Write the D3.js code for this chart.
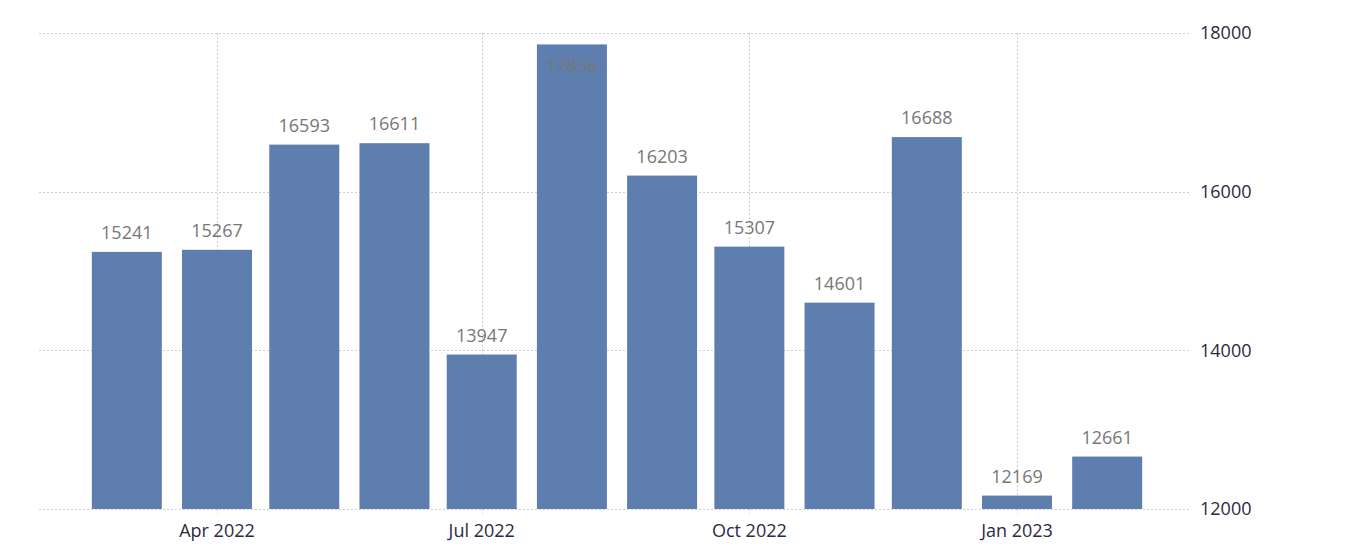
<!DOCTYPE html>
<html>
<head>
<meta charset="utf-8">
<script src="https://cdn.jsdelivr.net/npm/d3@7"></script>
<style>
    body { margin: 0; background: #fff; }
    svg text { font-family: "Open Sans", sans-serif; }
    .grid line { stroke: #cfcfcf; stroke-dasharray: 2,2; shape-rendering: crispEdges; }
    .bar { fill: #5d7eae; }
    .label { fill: #777; font-size: 18px; text-anchor: middle; }
    .ylab { fill: #2a2a44; font-size: 18px; }
    .xlab { fill: #2a2a44; font-size: 18px; text-anchor: middle; }
</style>
</head>
<body>
<svg width="1352" height="550"></svg>
<script>
// monthly values, Mar 2022 - Feb 2023
var months = ["2022-03","2022-04","2022-05","2022-06","2022-07","2022-08",
              "2022-09","2022-10","2022-11","2022-12","2023-01","2023-02"];
var values = [15241, 15267, 16593, 16611, 13947, 17856, 16203, 15307, 14601, 16688, 12169, 12661];
var yTicks = [12000, 14000, 16000, 18000];
var xTicks = ["2022-04","2022-07","2022-10","2023-01"];
var xTickLabels = ["Apr 2022","Jul 2022","Oct 2022","Jan 2023"];

var g = {};
g.svg = d3.select("svg");
g.left = 39; g.right = 1190; g.top = 33; g.bottom = 509;

var parse = d3.timeParse("%Y-%m");
var data = months.map(function(m, i) { return { date: parse(m), value: values[i] }; });

var x = d3.scaleTime()
    .domain([parse("2022-04"), parse("2023-01")])
    .range([217, 1017]);

var y = d3.scaleLinear()
    .domain([12000, 18000])
    .range([g.bottom, g.top]);

var barWidth = 70;

// gridlines
var grid = g.svg.append("g").attr("class", "grid");
grid.selectAll(".h")
    .data(yTicks)
  .enter().append("line")
    .attr("class", "h")
    .attr("x1", g.left).attr("x2", g.right)
    .attr("y1", function(d) { return Math.round(y(d)) + 0.5; })
    .attr("y2", function(d) { return Math.round(y(d)) + 0.5; });
grid.selectAll(".v")
    .data(xTicks)
  .enter().append("line")
    .attr("class", "v")
    .attr("x1", function(d) { return Math.round(x(parse(d))) + 0.5; })
    .attr("x2", function(d) { return Math.round(x(parse(d))) + 0.5; })
    .attr("y1", g.top).attr("y2", g.bottom + 5);

// bars
g.svg.append("g").selectAll("rect")
    .data(data)
  .enter().append("rect")
    .attr("class", "bar")
    .attr("x", function(d) { return x(d.date) - barWidth / 2; })
    .attr("width", barWidth)
    .attr("y", function(d) { return y(d.value); })
    .attr("height", function(d) { return g.bottom - y(d.value); });

// value labels - pushed inside the bar when no room above
g.svg.append("g").selectAll("text")
    .data(data)
  .enter().append("text")
    .attr("class", "label")
    .attr("x", function(d) { return x(d.date); })
    .attr("y", function(d) {
        var t = y(d.value) - 13;
        return t < g.top + 20 ? y(d.value) + 28 : t;
    })
    .text(function(d) { return d.value; });

// y axis labels on the right
g.svg.append("g").selectAll("text")
    .data(yTicks)
  .enter().append("text")
    .attr("class", "ylab")
    .attr("x", 1200)
    .attr("y", function(d) { return y(d); })
    .attr("dy", "0.35em")
    .text(function(d) { return d; });

// x axis labels
g.svg.append("g").selectAll("text")
    .data(xTicks)
  .enter().append("text")
    .attr("class", "xlab")
    .attr("x", function(d) { return x(parse(d)); })
    .attr("y", 537)
    .text(function(d, i) { return xTickLabels[i]; });
</script>
</body>
</html>
